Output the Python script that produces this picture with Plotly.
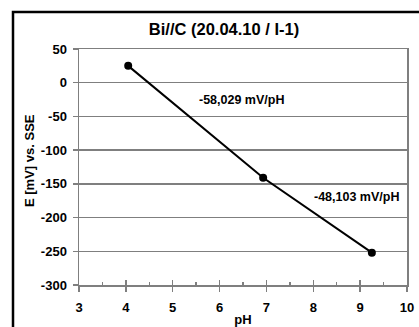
import plotly.graph_objects as go

ph = [4.05, 6.93, 9.25]
potential = [25, -141, -252]
slope_labels = ["-58,029 mV/pH", "-48,103 mV/pH"]
slope_label_x = [6.47, 8.93]
slope_label_y = [-26, -170]
x_ticks = [3, 4, 5, 6, 7, 8, 9, 10]
x_tick_text = ["3", "4", "5", "6", "7", "8", "9", "10"]
y_ticks = [50, 0, -50, -100, -150, -200, -250, -300]
y_tick_text = ["50", "0", "-50", "-100", "-150", "-200", "-250", "-300"]
y_title = "E [mV] vs. SSE"

FONT = "Liberation Sans, Arial, sans-serif"
GRAY = "#7f7f7f"

fig = go.Figure()
fig.add_trace(go.Scatter(
    x=ph, y=potential, mode="lines+markers",
    line=dict(color="black", width=2),
    marker=dict(color="black", size=8),
    showlegend=False, hoverinfo="skip"))
# invisible trace on overlay axis for crossing ticks
fig.add_trace(go.Scatter(x=[3, 10], y=[-300, -300], xaxis="x2", mode="markers",
                         marker=dict(opacity=0), showlegend=False, hoverinfo="skip"))

for txt, xx, yy in zip(slope_labels, slope_label_x, slope_label_y):
    fig.add_annotation(x=xx, y=yy, text=txt, showarrow=False,
                       font=dict(family=FONT, size=12.5, color="black", weight="bold"))

# y-axis title as rotated annotation (slightly above plot centre, as in reference)
fig.add_annotation(xref="paper", yref="paper", x=(29-79)/328, y=(285-161)/236,
                   text=y_title, textangle=-90, showarrow=False,
                   xanchor="center", yanchor="middle",
                   font=dict(family=FONT, size=13, color="black", weight="bold"))

fig.update_layout(
    width=419, height=327,
    margin=dict(l=79, r=12, t=49, b=42, autoexpand=False),
    paper_bgcolor="white", plot_bgcolor="white",
    font=dict(family=FONT, color="black"),
    title=dict(text="Bi//C (20.04.10 / I-1)", x=224/419, xanchor="center",
               y=1-29/327, yanchor="middle",
               font=dict(family=FONT, size=16.5, color="black", weight="bold")),
    xaxis=dict(range=[3, 10], tickvals=x_ticks, ticktext=x_tick_text,
               ticks="outside", ticklen=5,
               tickcolor=GRAY, tickwidth=1.5, showgrid=False, zeroline=False,
               showline=True, linecolor=GRAY, linewidth=1.5, mirror=True,
               ticklabelstandoff=5, automargin=False,
               tickfont=dict(family=FONT, size=13, color="black", weight="bold"),
               title=dict(text="pH", standoff=6,
                          font=dict(family=FONT, size=13, color="black", weight="bold"))),
    xaxis2=dict(range=[3, 10], overlaying="x", side="bottom", tickvals=x_ticks,
                ticks="inside", ticklen=5, tickcolor=GRAY, tickwidth=1.5,
                showticklabels=False, showgrid=False, zeroline=False, showline=False,
                automargin=False,
                minor=dict(dtick=0.5, tick0=3, ticks="inside", ticklen=3,
                           tickcolor=GRAY, tickwidth=1.5)),
    yaxis=dict(range=[-300, 50], tickvals=y_ticks, ticktext=y_tick_text,
               ticks="outside", ticklen=5,
               tickcolor=GRAY, tickwidth=1.5, showgrid=True, gridcolor=GRAY,
               gridwidth=1.3, zeroline=False, showline=True, linecolor=GRAY,
               linewidth=1.5, mirror=True, ticklabelstandoff=3, automargin=False,
               tickfont=dict(family=FONT, size=13, color="black", weight="bold")),
)

fig.add_shape(type="rect", xref="paper", yref="paper",
              x0=(13-79)/328, x1=1.2, y0=-0.4, y1=1+(49-12)/236,
              line=dict(color="black", width=2.5), fillcolor="rgba(0,0,0,0)",
              layer="above")

fig.write_html("out.html", config={"displayModeBar": False, "staticPlot": True},
               post_script="document.body.style.margin='0';document.body.style.overflow='hidden';")
